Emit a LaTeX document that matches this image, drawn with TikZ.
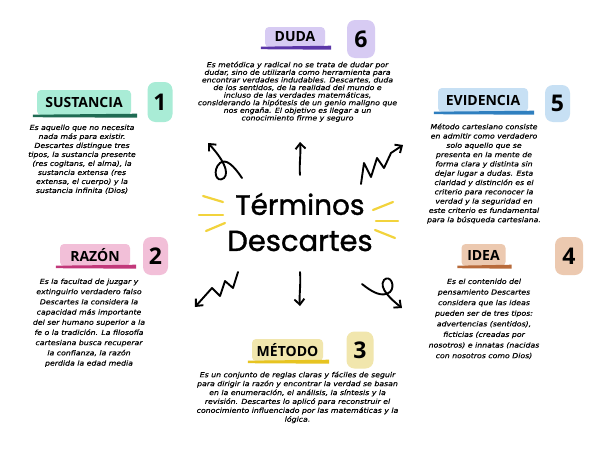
\documentclass[tikz,border=0pt]{standalone}
\usepackage{fontspec}
\setmainfont{Open Sans}
\newfontfamily\titlefont[FakeBold=1.2]{Poppins}
\newfontfamily\bodyfont[FakeStretch=1.13,FakeBold=0.3]{DejaVu Sans}
\usetikzlibrary{arrows.meta}
\definecolor{cmint}{HTML}{A9ECD6}
\definecolor{umint}{HTML}{1F6B53}
\definecolor{cpink}{HTML}{F2BFD8}
\definecolor{upink}{HTML}{C2387A}
\definecolor{cyel}{HTML}{F1E6AD}
\definecolor{uyel}{HTML}{E7C421}
\definecolor{cpeach}{HTML}{ECC9B0}
\definecolor{upeach}{HTML}{B86A3A}
\definecolor{cblue}{HTML}{C7E0F4}
\definecolor{ublue}{HTML}{2F7FBF}
\definecolor{clav}{HTML}{D7CBF3}
\definecolor{ulav}{HTML}{5B36A8}
\definecolor{ray}{HTML}{F2D33C}
\newcommand\ubrush[2]{%
  \fill[#2] ([xshift=-4pt,yshift=0.5pt]#1.south west) -- ([xshift=6pt,yshift=1.5pt]#1.south east)
   -- ([xshift=6pt,yshift=-2.5pt]#1.south east) -- ([xshift=-4pt,yshift=-2pt]#1.south west) -- cycle;}
\begin{document}
\begin{tikzpicture}[x=1pt,y=-1pt,
  tbox/.style={rounded corners=4pt,inner sep=0pt,minimum height=22pt,
    font=\bfseries\fontsize{14}{14}\selectfont},
  nbox/.style={rounded corners=8pt,inner sep=0pt,minimum width=26pt,minimum height=38pt,
    font=\bfseries\fontsize{23}{23}\selectfont},
  body/.style={align=center,inner sep=0pt,anchor=north,font=\bodyfont\itshape\fontsize{6.9}{#1}\selectfont},
  arr/.style={line width=1.9pt,line cap=round,line join=round,-{Straight Barb[length=5.5pt,width=10pt]}},
  raystyle/.style={ray,line width=2.2pt,line cap=round}]
\useasboundingbox (0,0) rectangle (600,450);
\fill[white] (0,0) rectangle (600,450);

% titles
\node[tbox,fill=clav,minimum width=60pt,minimum height=20pt] (duda) at (295,37) {DUDA};
\ubrush{duda}{ulav}
\node[nbox,fill=clav,minimum width=28pt] (n6) at (361,39) {6};

\node[tbox,fill=cmint,minimum width=94pt,minimum height=25pt] (sust) at (84,102.5) {SUSTANCIA};
\ubrush{sust}{umint}
\node[nbox,fill=cmint,minimum width=25pt,minimum height=40pt] (n1) at (160,102) {1};

\node[tbox,fill=cblue,minimum width=90pt,minimum height=24pt] (evid) at (483,100) {EVIDENCIA};
\ubrush{evid}{ublue}
\node[nbox,fill=cblue,minimum width=25pt,minimum height=37pt] (n5) at (557.5,103.5) {5};

\node[tbox,fill=cpink,minimum width=70pt] (razon) at (95,255) {RAZÓN};
\ubrush{razon}{upink}
\node[nbox,fill=cpink,minimum width=25pt] (n2) at (155.5,256) {2};

\node[tbox,fill=cpeach,minimum width=44pt] (idea) at (483.5,255) {IDEA};
\ubrush{idea}{upeach}
\node[nbox,fill=cpeach,minimum width=28pt] (n4) at (569,256) {4};

\node[tbox,fill=cyel,minimum width=71pt] (metodo) at (287.5,350) {MÉTODO};
\ubrush{metodo}{uyel}
\node[nbox,fill=cyel,minimum width=27pt,minimum height=37pt] (n3) at (360,350) {3};

% body texts
\node[body=7.6] (tduda) at (297.5,61.5) {Es metódica y radical no se trata de dudar por\\
dudar, sino de utilizarla como herramienta para\\
encontrar verdades indudables. Descartes, duda\\
de los sentidos, de la realidad del mundo e\\
incluso de las verdades matemáticas,\\
considerando la hipótesis de un genio maligno que\\
nos engaña. El objetivo es llegar a un\\
conocimiento firme y seguro};

\node[body=9] (tsust) at (82,124.5) {Es aquello que no necesita\\
nada más para existir.\\
Descartes distingue tres\\
tipos, la sustancia presente\\
(res cogitans, el alma), la\\
sustancia extensa (res\\
extensa, el cuerpo) y la\\
sustancia infinita (Dios)};

\node[body=9.3] (tevid) at (484,123.5) {Método cartesiano consiste\\
en admitir como verdadero\\
solo aquello que se\\
presenta en la mente de\\
forma clara y distinta sin\\
dejar lugar a dudas. Esta\\
claridad y distinción es el\\
criterio para reconocer la\\
verdad y la seguridad en\\
este criterio es fundamental\\
para la búsqueda cartesiana.};

\node[body=10.2] (trazon) at (89,278.5) {Es la facultad de juzgar y\\
extinguirlo verdadero falso\\
Descartes la considera la\\
capacidad más importante\\
del ser humano superior a la\\
fe o la tradición. La filosofía\\
cartesiana busca recuperar\\
la confianza, la razón\\
perdida la edad media};

\node[body=10.6] (tidea) at (484,278.5) {Es el contenido del\\
pensamiento Descartes\\
considera que las ideas\\
pueden ser de tres tipos:\\
advertencias (sentidos),\\
ficticias (creadas por\\
nosotros) e innatas (nacidas\\
con nosotros como Dios)};

\node[body=8.9] (tmet) at (297.5,371.5) {Es un conjunto de reglas claras y fáciles de seguir\\
para dirigir la razón y encontrar la verdad se basan\\
en la enumeración, el análisis, la síntesis y la\\
revisión. Descartes lo aplicó para reconstruir el\\
conocimiento influenciado por las matemáticas y la\\
lógica.};

% center title
\node[font=\titlefont\fontsize{28}{28}\selectfont,inner sep=0pt] (t1) at (300,204) {Términos};
\node[font=\titlefont\fontsize{29}{29}\selectfont,inner sep=0pt] (t2) at (300,241) {Descartes};

% rays
\draw[raystyle] (203,196) -- (223,202);
\draw[raystyle] (199,215) -- (223,215);
\draw[raystyle] (206,231) -- (225,223);
\draw[raystyle] (373,210) -- (393,202);
\draw[raystyle] (376,221) -- (398,221);
\draw[raystyle] (375,230) -- (395,238);

% arrows
\draw[arr] (242,178) .. controls (234,166) and (226,158) .. (220,163)
  .. controls (212,170) and (216,184) .. (224,178)
  .. controls (230,172) and (222,158) .. (208,143);
\draw[arr] (300,175) .. controls (299,165) and (301,155) .. (300,142);
\draw[arr] (361,184) -- (364,163) -- (371,177) -- (377,158) -- (384,168) -- (391,153) -- (403,145);
\draw[arr] (238,272) -- (233,288) -- (225,281) -- (220,296) -- (212,288) -- (195,307);
\draw[arr] (300,272) .. controls (301,285) and (299,295) .. (300,306);
\draw[arr] (362,284) .. controls (372,292) and (382,298) .. (390,292)
  .. controls (396,286) and (390,274) .. (384,280)
  .. controls (378,288) and (392,300) .. (402,308);
\end{tikzpicture}
\end{document}
